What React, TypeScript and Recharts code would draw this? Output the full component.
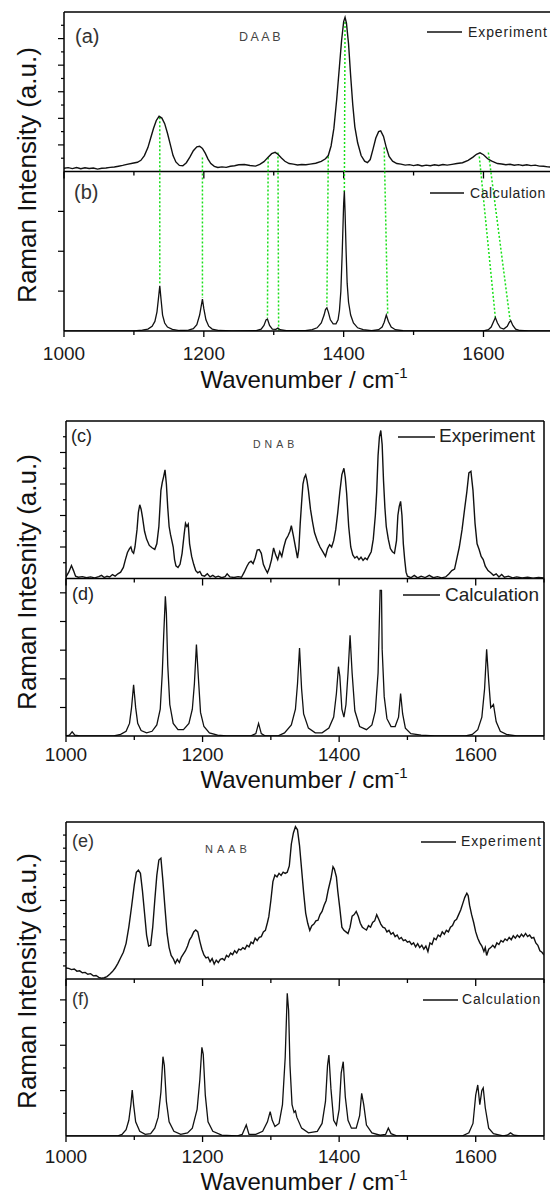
import React from 'react';
import { LineChart, Line, XAxis, YAxis, ReferenceLine } from 'recharts';

const FONT = "'Liberation Sans', Arial, Helvetica, sans-serif";

// ---------- axis ticks ----------
const xTicks = [1000, 1100, 1200, 1300, 1400, 1500, 1600, 1700];
const xLabels = [1000, 1200, 1400, 1600];

const daabExpTicks = [0.0833, 0.1667, 0.25, 0.3333, 0.4167, 0.5, 0.5833, 0.6667, 0.75, 0.8333, 0.9167];
const daabExpMajors = [0.1667, 0.3333, 0.5, 0.6667, 0.8333];
const daabCalcTicks = [0.25, 0.5, 0.75];
const daabCalcMajors = [0.25, 0.5, 0.75];

const dnabExpTicks = [0.1, 0.2, 0.3, 0.4, 0.5, 0.6, 0.7, 0.8, 0.9];
const dnabExpMajors = [0.2, 0.4, 0.6, 0.8];
const dnabCalcTicks = [0.181, 0.363, 0.545, 0.727, 0.909];
const dnabCalcMajors = [0.181, 0.363, 0.545, 0.727, 0.909];

const naabExpTicks = [0.0833, 0.1667, 0.25, 0.3333, 0.4167, 0.5, 0.5833, 0.6667, 0.75, 0.8333, 0.9167];
const naabExpMajors = [0.25, 0.5, 0.75];
const naabCalcTicks = [0.1445, 0.289, 0.4335, 0.578, 0.7225, 0.867];
const naabCalcMajors = [0.289, 0.578, 0.867];

// ---------- spectra: [wavenumber, normalised intensity] ----------
type Pt = [number, number];

const daabExp: Pt[] = [
  [1000,0.02],[1006,0.024],[1012,0.018],[1018,0.025],[1024,0.017],[1030,0.023],[1036,0.019],[1042,0.022],[1048,0.015],[1054,0.02],[1060,0.022],[1066,0.026],[1072,0.028],[1078,0.033],[1084,0.038],[1090,0.045],[1098,0.052],[1105,0.058],[1110,0.07],[1115,0.1],[1120,0.15],[1124,0.21],[1128,0.27],[1132,0.32],[1136,0.346],[1140,0.335],[1144,0.3],[1148,0.24],[1152,0.17],[1156,0.1],[1160,0.06],[1165,0.038],[1170,0.036],[1175,0.055],[1180,0.09],[1185,0.13],[1190,0.155],[1194,0.158],[1198,0.145],[1202,0.115],[1206,0.078],[1210,0.05],[1215,0.032],[1220,0.025],[1226,0.029],[1232,0.026],[1238,0.033],[1244,0.036],[1250,0.042],[1258,0.044],[1266,0.038],[1274,0.034],[1280,0.045],[1286,0.062],[1292,0.09],[1297,0.112],[1302,0.12],[1306,0.108],[1311,0.085],[1316,0.064],[1322,0.05],[1328,0.046],[1334,0.041],[1340,0.044],[1346,0.042],[1352,0.046],[1360,0.052],[1368,0.064],[1374,0.08],[1378,0.1],[1382,0.16],[1386,0.27],[1390,0.45],[1394,0.66],[1397,0.82],[1400,0.94],[1402,0.967],[1404,0.93],[1407,0.8],[1410,0.6],[1413,0.42],[1416,0.28],[1420,0.18],[1425,0.1],[1430,0.065],[1434,0.055],[1438,0.075],[1442,0.14],[1446,0.21],[1450,0.25],[1453,0.255],[1457,0.22],[1461,0.15],[1465,0.095],[1470,0.065],[1476,0.05],[1482,0.046],[1488,0.04],[1494,0.043],[1500,0.037],[1506,0.042],[1512,0.035],[1518,0.04],[1524,0.036],[1530,0.042],[1536,0.038],[1542,0.044],[1548,0.04],[1555,0.045],[1562,0.05],[1570,0.055],[1578,0.07],[1585,0.09],[1590,0.108],[1595,0.117],[1600,0.105],[1606,0.08],[1612,0.065],[1620,0.05],[1626,0.047],[1632,0.042],[1638,0.045],[1644,0.039],[1650,0.043],[1656,0.038],[1662,0.042],[1668,0.037],[1674,0.04],[1680,0.034],[1686,0.033],[1692,0.029],[1700,0.028]
];

const daabCalc: Pt[] = [
  [1000,0],[1100,0],[1112,0.005],[1120,0.012],[1126,0.03],[1130,0.06],[1133,0.12],[1135,0.2],[1137,0.283],[1139,0.19],[1141,0.1],[1144,0.05],[1148,0.025],[1155,0.01],[1165,0.003],[1178,0.005],[1185,0.015],[1190,0.04],[1194,0.1],[1196,0.15],[1198,0.2],[1200,0.14],[1203,0.07],[1207,0.03],[1212,0.012],[1222,0.003],[1240,0],[1275,0.002],[1282,0.012],[1286,0.035],[1289,0.07],[1291,0.075],[1294,0.035],[1298,0.012],[1303,0.01],[1306,0.018],[1309,0.008],[1318,0.002],[1345,0.002],[1355,0.008],[1362,0.02],[1368,0.05],[1372,0.1],[1374,0.135],[1376,0.145],[1378,0.12],[1381,0.07],[1385,0.045],[1389,0.045],[1392,0.07],[1394,0.13],[1396,0.25],[1398,0.5],[1400,0.8],[1401,0.876],[1402,0.75],[1403.5,0.5],[1405,0.3],[1407,0.18],[1410,0.1],[1414,0.05],[1420,0.02],[1428,0.008],[1440,0.002],[1450,0.008],[1455,0.025],[1458,0.055],[1461,0.1],[1464,0.06],[1468,0.025],[1474,0.008],[1485,0.002],[1500,0],[1600,0],[1607,0.008],[1611,0.025],[1614,0.055],[1617,0.084],[1620,0.05],[1624,0.02],[1629,0.012],[1634,0.03],[1637,0.055],[1639,0.065],[1642,0.035],[1646,0.012],[1652,0.003],[1665,0],[1700,0]
];

const dnabExp: Pt[] = [
  [1000,0.01],[1004,0.04],[1008,0.082],[1011,0.05],[1014,0.015],[1018,0.008],[1024,0.012],[1030,0.005],[1036,0.01],[1042,0.004],[1048,0.012],[1052,0.02],[1056,0.006],[1060,0.014],[1064,0.01],[1068,0.025],[1072,0.015],[1076,0.03],[1080,0.04],[1084,0.07],[1087,0.12],[1090,0.165],[1093,0.19],[1095,0.2],[1097,0.17],[1099,0.16],[1101,0.2],[1104,0.31],[1106,0.42],[1108,0.468],[1110,0.44],[1112,0.39],[1115,0.3],[1118,0.25],[1122,0.21],[1126,0.195],[1130,0.185],[1133,0.22],[1136,0.33],[1139,0.56],[1141,0.61],[1143,0.647],[1145,0.69],[1147,0.6],[1149,0.45],[1151,0.33],[1153,0.28],[1155,0.24],[1157,0.2],[1159,0.12],[1161,0.08],[1164,0.07],[1167,0.09],[1170,0.16],[1173,0.28],[1175,0.35],[1177,0.33],[1179,0.345],[1181,0.22],[1184,0.14],[1187,0.09],[1190,0.05],[1193,0.036],[1196,0.045],[1199,0.02],[1203,0.015],[1207,0.03],[1211,0.01],[1215,0.02],[1219,0.008],[1223,0.015],[1228,0.005],[1233,0.012],[1236,0.03],[1240,0.01],[1246,0.006],[1252,0.012],[1257,0.008],[1261,0.04],[1265,0.078],[1268,0.1],[1271,0.11],[1274,0.095],[1277,0.13],[1280,0.18],[1283,0.184],[1286,0.16],[1289,0.09],[1292,0.06],[1295,0.036],[1298,0.07],[1301,0.12],[1304,0.194],[1307,0.15],[1310,0.12],[1313,0.17],[1316,0.14],[1319,0.2],[1322,0.247],[1325,0.27],[1328,0.3],[1330,0.335],[1333,0.27],[1336,0.2],[1339,0.13],[1341,0.19],[1343,0.35],[1345,0.48],[1347,0.6],[1349,0.64],[1351,0.658],[1353,0.62],[1355,0.56],[1358,0.44],[1361,0.36],[1364,0.29],[1368,0.24],[1372,0.2],[1376,0.17],[1380,0.14],[1383,0.19],[1386,0.215],[1389,0.2],[1392,0.24],[1395,0.31],[1398,0.42],[1401,0.55],[1404,0.66],[1407,0.7],[1409,0.64],[1411,0.54],[1414,0.33],[1417,0.2],[1420,0.15],[1423,0.13],[1426,0.14],[1429,0.12],[1432,0.135],[1435,0.115],[1438,0.13],[1441,0.12],[1444,0.145],[1447,0.17],[1450,0.25],[1453,0.4],[1455,0.55],[1457,0.78],[1459,0.9],[1461,0.94],[1463,0.85],[1465,0.62],[1467,0.45],[1469,0.33],[1472,0.25],[1475,0.19],[1478,0.17],[1481,0.16],[1484,0.24],[1486,0.4],[1488,0.458],[1490,0.49],[1492,0.4],[1494,0.22],[1496,0.12],[1498,0.04],[1500,0.015],[1505,0.005],[1510,0.02],[1515,0.004],[1520,0.015],[1526,0.006],[1532,0.02],[1538,0.005],[1544,0.012],[1550,0.004],[1556,0.01],[1561,0.03],[1565,0.05],[1569,0.06],[1572,0.12],[1576,0.2],[1580,0.31],[1584,0.45],[1587,0.55],[1590,0.67],[1593,0.68],[1596,0.56],[1599,0.35],[1602,0.22],[1605,0.184],[1608,0.14],[1611,0.12],[1614,0.078],[1618,0.05],[1622,0.036],[1626,0.02],[1630,0.03],[1634,0.01],[1638,0.025],[1642,0.008],[1648,0.015],[1654,0.004],[1660,0.01],[1668,0.003],[1676,0.008],[1684,0.002],[1692,0.006],[1700,0.003]
];

const dnabCalc: Pt[] = [
  [1000,0],[1005,0.005],[1009,0.027],[1013,0.005],[1020,0],[1070,0],[1080,0.01],[1088,0.03],[1093,0.08],[1096,0.18],[1099,0.325],[1102,0.18],[1105,0.08],[1110,0.035],[1118,0.02],[1126,0.03],[1133,0.07],[1138,0.17],[1141,0.4],[1143,0.63],[1145.5,0.887],[1147,0.78],[1149,0.45],[1152,0.2],[1157,0.08],[1164,0.04],[1172,0.04],[1180,0.08],[1185,0.17],[1188,0.33],[1191,0.58],[1194,0.36],[1197,0.15],[1202,0.06],[1210,0.02],[1222,0.005],[1235,0],[1270,0],[1278,0.015],[1282,0.08],[1286,0.015],[1292,0],[1310,0],[1320,0.02],[1330,0.07],[1336,0.17],[1339,0.33],[1342,0.558],[1345,0.3],[1348,0.14],[1355,0.05],[1365,0.02],[1375,0.02],[1385,0.05],[1392,0.12],[1396,0.27],[1399,0.44],[1401,0.38],[1404,0.17],[1407,0.12],[1410,0.2],[1413,0.4],[1416,0.64],[1419,0.4],[1423,0.16],[1430,0.06],[1440,0.04],[1448,0.07],[1453,0.16],[1457,0.4],[1460,0.925],[1462,0.925],[1463,0.55],[1466,0.25],[1470,0.11],[1476,0.06],[1482,0.06],[1487,0.12],[1490,0.27],[1493,0.14],[1497,0.05],[1505,0.015],[1520,0.005],[1540,0],[1585,0],[1595,0.01],[1603,0.04],[1609,0.12],[1613,0.3],[1616,0.55],[1619,0.35],[1622,0.18],[1626,0.2],[1630,0.09],[1636,0.03],[1645,0.01],[1660,0],[1700,0]
];

const naabExp: Pt[] = [
  [1000,0.07],[1004,0.068],[1008,0.06],[1012,0.064],[1016,0.05],[1020,0.052],[1024,0.04],[1028,0.042],[1032,0.03],[1036,0.034],[1040,0.02],[1044,0.022],[1048,0.01],[1052,0.005],[1056,0.008],[1060,0.015],[1064,0.03],[1068,0.047],[1072,0.07],[1076,0.1],[1080,0.135],[1084,0.17],[1088,0.227],[1092,0.33],[1096,0.46],[1100,0.6],[1103,0.68],[1106,0.694],[1109,0.673],[1112,0.56],[1115,0.42],[1118,0.28],[1121,0.21],[1124,0.215],[1127,0.33],[1130,0.5],[1133,0.66],[1136,0.758],[1139,0.77],[1142,0.62],[1145,0.45],[1148,0.29],[1151,0.2],[1154,0.15],[1157,0.13],[1160,0.1],[1163,0.125],[1166,0.105],[1169,0.14],[1172,0.16],[1175,0.18],[1178,0.21],[1181,0.25],[1184,0.27],[1187,0.3],[1190,0.312],[1193,0.3],[1196,0.24],[1199,0.19],[1202,0.153],[1205,0.135],[1208,0.14],[1211,0.11],[1214,0.13],[1217,0.095],[1220,0.12],[1223,0.105],[1226,0.125],[1229,0.13],[1232,0.12],[1235,0.15],[1238,0.14],[1241,0.165],[1244,0.155],[1247,0.18],[1250,0.165],[1253,0.19],[1256,0.185],[1259,0.2],[1262,0.19],[1265,0.215],[1268,0.205],[1271,0.235],[1274,0.225],[1277,0.26],[1280,0.245],[1283,0.265],[1286,0.27],[1289,0.3],[1292,0.31],[1295,0.36],[1297,0.397],[1300,0.5],[1303,0.62],[1306,0.662],[1309,0.65],[1312,0.673],[1315,0.66],[1318,0.68],[1321,0.673],[1324,0.68],[1327,0.72],[1330,0.86],[1333,0.93],[1336,0.97],[1339,0.95],[1342,0.85],[1345,0.7],[1348,0.55],[1351,0.42],[1354,0.355],[1357,0.31],[1360,0.34],[1363,0.35],[1366,0.37],[1369,0.375],[1372,0.41],[1375,0.43],[1378,0.47],[1381,0.5],[1384,0.567],[1388,0.64],[1391,0.715],[1393,0.7],[1396,0.65],[1398,0.56],[1401,0.45],[1404,0.33],[1407,0.31],[1410,0.3],[1413,0.29],[1416,0.33],[1419,0.4],[1422,0.41],[1425,0.43],[1428,0.4],[1431,0.355],[1434,0.33],[1437,0.32],[1440,0.312],[1443,0.34],[1446,0.33],[1449,0.36],[1452,0.37],[1455,0.41],[1458,0.38],[1461,0.35],[1464,0.33],[1467,0.325],[1470,0.3],[1473,0.31],[1476,0.285],[1479,0.295],[1482,0.27],[1485,0.28],[1488,0.255],[1491,0.265],[1494,0.245],[1497,0.25],[1500,0.235],[1503,0.24],[1506,0.22],[1509,0.23],[1512,0.205],[1515,0.225],[1518,0.2],[1521,0.215],[1524,0.19],[1527,0.21],[1530,0.175],[1533,0.23],[1536,0.22],[1539,0.26],[1542,0.25],[1545,0.28],[1548,0.27],[1551,0.3],[1554,0.285],[1557,0.31],[1560,0.3],[1563,0.33],[1566,0.34],[1569,0.37],[1572,0.38],[1575,0.41],[1578,0.44],[1581,0.48],[1584,0.52],[1587,0.546],[1589,0.53],[1591,0.47],[1594,0.41],[1597,0.36],[1600,0.3],[1603,0.26],[1606,0.23],[1609,0.21],[1612,0.175],[1614,0.2],[1616,0.15],[1619,0.19],[1622,0.2],[1625,0.215],[1628,0.2],[1631,0.23],[1634,0.22],[1637,0.245],[1640,0.235],[1643,0.255],[1646,0.245],[1649,0.265],[1652,0.25],[1655,0.275],[1658,0.26],[1661,0.28],[1664,0.265],[1667,0.285],[1670,0.27],[1673,0.29],[1676,0.27],[1679,0.28],[1682,0.26],[1685,0.265],[1688,0.23],[1691,0.215],[1694,0.18],[1697,0.17],[1700,0.153]
];

const naabCalc: Pt[] = [
  [1000,0],[1075,0],[1082,0.01],[1088,0.04],[1092,0.1],[1095,0.2],[1097,0.293],[1099,0.2],[1102,0.09],[1108,0.03],[1116,0.01],[1124,0.015],[1130,0.05],[1135,0.12],[1139,0.28],[1142,0.505],[1144,0.45],[1147,0.22],[1151,0.09],[1158,0.03],[1168,0.01],[1178,0.02],[1185,0.05],[1192,0.17],[1196,0.36],[1199,0.565],[1201,0.52],[1204,0.26],[1208,0.09],[1215,0.03],[1228,0.005],[1250,0],[1258,0.01],[1264,0.07],[1268,0.01],[1278,0.01],[1288,0.03],[1295,0.09],[1299,0.155],[1302,0.1],[1306,0.06],[1312,0.08],[1317,0.2],[1321,0.5],[1324,0.909],[1326,0.8],[1328,0.45],[1331,0.2],[1334,0.15],[1336,0.16],[1338,0.12],[1345,0.05],[1355,0.02],[1368,0.03],[1375,0.08],[1380,0.22],[1383,0.45],[1385,0.516],[1388,0.3],[1392,0.1],[1396,0.07],[1400,0.17],[1403,0.4],[1406,0.473],[1409,0.25],[1413,0.1],[1418,0.05],[1425,0.05],[1430,0.13],[1433,0.272],[1436,0.2],[1440,0.07],[1448,0.02],[1460,0.005],[1468,0.01],[1472,0.05],[1476,0.015],[1485,0],[1580,0],[1590,0.02],[1596,0.08],[1600,0.26],[1603,0.325],[1606,0.2],[1609,0.29],[1611,0.306],[1614,0.18],[1619,0.05],[1626,0.015],[1640,0],[1646,0.005],[1651,0.02],[1656,0.005],[1665,0],[1700,0]
];

// green guide lines in (a)/(b): [expWavenumber, expIntensity, calcWavenumber, calcIntensity]
const daabLinks: [number, number, number, number][] = [
  [1137, 0.34, 1137, 0.289],
  [1198, 0.0875, 1198, 0.2075],
  [1292, 0.0875, 1291, 0.082],
  [1306, 0.119, 1307, 0],
  [1378, 0.094, 1376, 0.16],
  [1402, 0.9625, 1401, 0.868],
  [1458, 0.15, 1463, 0.107],
  [1594, 0.094, 1617, 0.082],
  [1607, 0.119, 1638, 0.069],
];

const pts = (a: Pt[]) => a.map(([x, y]) => ({ x, y }));

function XTick(props: any) {
  const { x, y, payload, labelDy } = props;
  const v = payload.value;
  const major = xLabels.includes(v);
  return (
    <g>
      <line x1={x} x2={x} y1={y} y2={y + (major ? 6 : 4)} stroke="#000" strokeWidth={1.3} />
      {major && (
        <text x={x} y={y + labelDy} textAnchor="middle" fontSize={19} fontFamily={FONT} fill="#1a1a1a">
          {v}
        </text>
      )}
    </g>
  );
}

function YTick(props: any) {
  const { x, y, payload, majors } = props;
  const major = majors.has(payload.value);
  return <line x1={x - (major ? 6 : 3)} x2={x} y1={y} y2={y} stroke="#000" strokeWidth={1.2} />;
}

type PanelProps = {
  top: number;
  width: number;
  height: number;
  marginTop: number;
  marginRight: number;
  yAxisWidth: number;
  xAxisHeight: number;
  exp: Pt[];
  calc: Pt[];
  expTicks: number[];
  expMajors: number[];
  calcTicks: number[];
  calcMajors: number[];
  labelDy: number;
  rightBorder: boolean;
  links?: [number, number, number, number][];
};

function Panel(p: PanelProps) {
  const yTicks = [...p.calcTicks, ...p.expTicks.map((v) => 1 + v)];
  const majors = new Set<number>([...p.calcMajors, ...p.expMajors.map((v) => 1 + v)]);
  const plotH = p.height - p.marginTop - p.xAxisHeight;
  const midTicks = xTicks.map((t) => ({ t, d: ((xLabels.includes(t) ? 7 : 4) * 2) / plotH }));
  return (
    <div style={{ position: 'absolute', left: 0, top: p.top, width: p.width, height: p.height }}>
      <LineChart
        width={p.width}
        height={p.height}
        margin={{ top: p.marginTop, right: p.marginRight, bottom: 0, left: 0 }}
      >
        <XAxis
          dataKey="x"
          type="number"
          domain={[1000, 1700]}
          allowDataOverflow
          ticks={xTicks}
          interval={0}
          height={p.xAxisHeight}
          tickSize={0}
          tickMargin={0}
          tickLine={false}
          axisLine={{ stroke: '#000', strokeWidth: 1.5 }}
          tick={(tp: any) => <XTick {...tp} labelDy={p.labelDy} />}
        />
        <YAxis
          yAxisId="b"
          type="number"
          domain={[0, 2]}
          allowDataOverflow
          ticks={yTicks}
          interval={0}
          width={p.yAxisWidth}
          tickSize={0}
          tickMargin={0}
          tickLine={false}
          axisLine={{ stroke: '#000', strokeWidth: 1.5 }}
          tick={(tp: any) => <YTick {...tp} majors={majors} />}
        />
        <YAxis yAxisId="t" type="number" domain={[-1, 1]} allowDataOverflow hide />
        <ReferenceLine yAxisId="b" y={2} stroke="#000" strokeWidth={1.5} ifOverflow="visible" />
        <ReferenceLine yAxisId="b" y={1} stroke="#000" strokeWidth={1.5} ifOverflow="visible" />
        {p.rightBorder && (
          <ReferenceLine yAxisId="b" x={1700} stroke="#000" strokeWidth={1.5} ifOverflow="visible" />
        )}
        {midTicks.map((m) => (
          <ReferenceLine
            key={'mt' + m.t}
            yAxisId="b"
            ifOverflow="visible"
            segment={[
              { x: m.t, y: 1 },
              { x: m.t, y: 1 - m.d },
            ]}
            stroke="#000"
            strokeWidth={1.3}
          />
        ))}
        {(p.links || []).map((l, i) => (
          <ReferenceLine
            key={'g' + i}
            yAxisId="b"
            ifOverflow="visible"
            segment={[
              { x: l[0], y: 1 + l[1] },
              { x: l[2], y: l[3] },
            ]}
            stroke="#19e019"
            strokeWidth={1.5}
            strokeDasharray="2 2"
          />
        ))}
        <Line
          yAxisId="t"
          data={pts(p.exp)}
          dataKey="y"
          type="linear"
          dot={false}
          activeDot={false}
          stroke="#111"
          strokeWidth={1.4}
          isAnimationActive={false}
        />
        <Line
          yAxisId="b"
          data={pts(p.calc)}
          dataKey="y"
          type="linear"
          dot={false}
          activeDot={false}
          stroke="#111"
          strokeWidth={1.3}
          isAnimationActive={false}
        />
      </LineChart>
    </div>
  );
}

function XTitle({ y }: { y: number }) {
  return (
    <text x={304} y={y} textAnchor="middle" fontSize={24} fontFamily={FONT} fill="#111">
      Wavenumber / cm<tspan fontSize={15} dy={-10}>-1</tspan>
    </text>
  );
}

function YTitle({ y, text }: { y: number; text: string }) {
  return (
    <text
      transform={`translate(35.5,${y}) rotate(-90)`}
      textAnchor="middle"
      fontSize={26}
      fontFamily={FONT}
      fill="#111"
    >
      {text}
    </text>
  );
}

function LegendItem({ x1, x2, y, tx, ty, size, spacing, text }: any) {
  return (
    <g>
      <line x1={x1} x2={x2} y1={y} y2={y} stroke="#111" strokeWidth={1.4} />
      <text x={tx} y={ty} fontSize={size} letterSpacing={spacing} fontFamily={FONT} fill="#222">
        {text}
      </text>
    </g>
  );
}

function Label({ x, y, size, spacing, text, fill }: any) {
  return (
    <text x={x} y={y} fontSize={size} letterSpacing={spacing || 0} fontFamily={FONT} fill={fill || '#333'}>
      {text}
    </text>
  );
}

export default function App() {
  return (
    <div
      style={{
        position: 'absolute',
        left: 0,
        top: 0,
        width: 550,
        height: 1196,
        overflow: 'hidden',
        background: '#fff',
      }}
    >
      <Panel
        top={0}
        width={556}
        height={400}
        marginTop={12}
        marginRight={2.6}
        yAxisWidth={64}
        xAxisHeight={69}
        exp={daabExp}
        calc={daabCalc}
        expTicks={daabExpTicks}
        expMajors={daabExpMajors}
        calcTicks={daabCalcTicks}
        calcMajors={daabCalcMajors}
        labelDy={29}
        rightBorder={false}
        links={daabLinks}
      />
      <Panel
        top={400}
        width={550}
        height={400}
        marginTop={21}
        marginRight={6}
        yAxisWidth={66}
        xAxisHeight={64}
        exp={dnabExp}
        calc={dnabCalc}
        expTicks={dnabExpTicks}
        expMajors={dnabExpMajors}
        calcTicks={dnabCalcTicks}
        calcMajors={dnabCalcMajors}
        labelDy={25}
        rightBorder={true}
      />
      <Panel
        top={800}
        width={550}
        height={396}
        marginTop={22}
        marginRight={6}
        yAxisWidth={66}
        xAxisHeight={60}
        exp={naabExp}
        calc={naabCalc}
        expTicks={naabExpTicks}
        expMajors={naabExpMajors}
        calcTicks={naabCalcTicks}
        calcMajors={naabCalcMajors}
        labelDy={27}
        rightBorder={true}
      />
      <svg
        width={550}
        height={1196}
        style={{ position: 'absolute', left: 0, top: 0, pointerEvents: 'none' }}
      >
        {/* panel 1 */}
        <Label x={75} y={43} size={20} text="(a)" />
        <Label x={239} y={40.5} size={12.5} spacing={2.5} text="DAAB" fill="#444" />
        <LegendItem x1={427} x2={462} y={32} tx={468} ty={37} size={14} spacing={0.9} text="Experiment" />
        <Label x={74} y={199} size={20} text="(b)" />
        <LegendItem x1={430} x2={464} y={193} tx={470} ty={198} size={14} spacing={0.6} text="Calculation" />
        <XTitle y={388} />
        <YTitle y={175} text="Raman Intensity (a.u.)" />

        {/* panel 2 */}
        <Label x={71} y={442} size={18} text="(c)" fill="#222" />
        <Label x={253} y={448} size={10.5} spacing={4} text="DNAB" fill="#444" />
        <LegendItem x1={398} x2={435} y={437} tx={439} ty={442} size={19} spacing={0} text="Experiment" />
        <Label x={72} y={600} size={18} text="(d)" fill="#222" />
        <LegendItem x1={403} x2={440} y={595} tx={445} ty={601} size={19} spacing={0} text="Calculation" />
        <XTitle y={788} />
        <YTitle y={582} text="Raman Intesnity (a.u.)" />

        {/* panel 3 */}
        <Label x={72} y={847} size={18} text="(e)" />
        <Label x={205} y={852.5} size={11} spacing={4} text="NAAB" fill="#444" />
        <LegendItem x1={421} x2={456} y={842} tx={461} ty={846} size={14} spacing={1} text="Experiment" />
        <Label x={72} y={1005} size={18} text="(f)" />
        <LegendItem x1={423} x2={458} y={1000} tx={462} ty={1004} size={14} spacing={0.9} text="Calculation" />
        <XTitle y={1190} />
        <YTitle y={981} text="Raman Intensity (a.u.)" />
      </svg>
    </div>
  );
}
